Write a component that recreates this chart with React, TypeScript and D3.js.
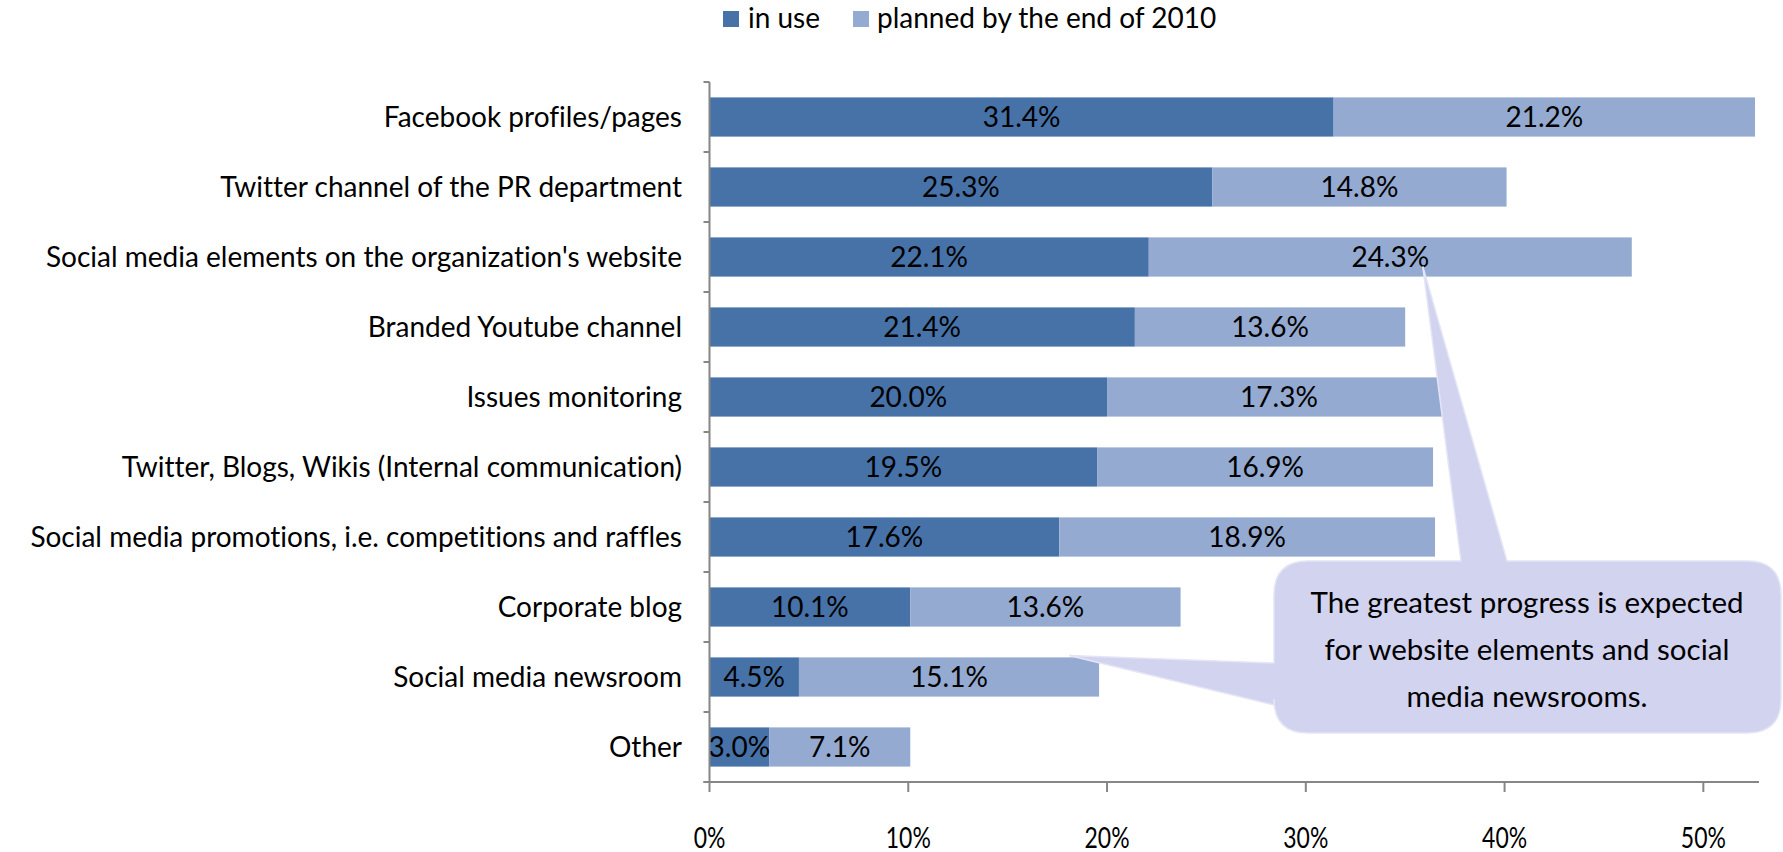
import React from "react";
import * as d3 from "d3";

const categories = [
  "Facebook profiles/pages",
  "Twitter channel of the PR department",
  "Social media elements on the organization's website",
  "Branded Youtube channel",
  "Issues monitoring",
  "Twitter, Blogs, Wikis (Internal communication)",
  "Social media promotions, i.e. competitions and raffles",
  "Corporate blog",
  "Social media newsroom",
  "Other",
];
const inUse = [31.4, 25.3, 22.1, 21.4, 20.0, 19.5, 17.6, 10.1, 4.5, 3.0];
const planned = [21.2, 14.8, 24.3, 13.6, 17.3, 16.9, 18.9, 13.6, 15.1, 7.1];
const seriesNames = ["in use", "planned by the end of 2010"];
const xTicks = [0, 10, 20, 30, 40, 50];
const calloutLines = [
  "The greatest progress is expected",
  "for website elements and social",
  "media newsrooms.",
];

const W = 1783;
const H = 852;
const FONT = "Lato, 'Open Sans', sans-serif";
const C1 = "#4672a8";
const C2 = "#95aad1";
const AXIS = "#868686";

export default function App() {
  const x = d3.scaleLinear().domain([0, 52.8]).range([709.5, 1759]);
  const y = d3.scaleBand<string>().domain(categories).range([82, 782]).paddingInner(0.44).paddingOuter(0.22);
  const band = d3.scaleBand<string>().domain(categories).range([82, 782]);
  const fmt = (v: number) => v.toFixed(1) + "%";

  // callout geometry
  const bx = 1274, by = 561, bw = 507, bh = 172, r = 34;
  const tip1x = x(inUse[2] + planned[2]) - 209, tip1y = (y(categories[2]) as number) + y.bandwidth() * 0.74;
  const tip2x = x(inUse[8] + planned[8]) - 30, tip2y = (y(categories[8]) as number) - 2;

  return (
    <svg width={W} height={H} style={{ display: "block", position: "absolute", left: 0, top: 0, fontVariantLigatures: "none" }} fontFamily={FONT}>
      {/* legend */}
      <g fontSize={28} fill="#000">
        <rect x={723} y={11} width={16} height={16} fill={C1} />
        <text x={748} y={28}>{seriesNames[0]}</text>
        <rect x={853} y={11} width={16} height={16} fill={C2} />
        <text x={877} y={28}>{seriesNames[1]}</text>
      </g>

      {/* bars */}
      {categories.map((c, i) => {
        const y0 = y(c) as number;
        const h = y.bandwidth();
        const x0 = x(0), x1 = x(inUse[i]), x2 = x(inUse[i] + planned[i]);
        return (
          <g key={c}>
            <rect x={x0} y={y0} width={x1 - x0} height={h} fill={C1} />
            <rect x={x1} y={y0} width={x2 - x1} height={h} fill={C2} />
            <text x={(x0 + x1) / 2} y={y0 + h / 2 + 10} textAnchor="middle" fontSize={28} fill="#000">{fmt(inUse[i])}</text>
            <text x={(x1 + x2) / 2} y={y0 + h / 2 + 10} textAnchor="middle" fontSize={28} fill="#000">{fmt(planned[i])}</text>
            <text x={682} y={y0 + h / 2 + 10} textAnchor="end" fontSize={28} fill="#000">{c}</text>
          </g>
        );
      })}

      {/* y axis */}
      <line x1={x(0)} x2={x(0)} y1={82} y2={782} stroke={AXIS} strokeWidth={2} />
      {d3.range(categories.length + 1).map((k) => {
        const yy = k < categories.length ? (band(categories[k]) as number) : 782;
        return <line key={k} x1={x(0) - 6} x2={x(0)} y1={yy} y2={yy} stroke={AXIS} strokeWidth={2} />;
      })}
      {/* x axis */}
      <line x1={x(0) - 6} x2={1759} y1={782} y2={782} stroke={AXIS} strokeWidth={2} />
      {xTicks.map((t) => (
        <g key={t}>
          <line x1={x(t)} x2={x(t)} y1={782} y2={792} stroke={AXIS} strokeWidth={2} />
          <g transform={`translate(${x(t)},848) scale(0.82,1)`}>
            <text x={0} y={0} textAnchor="middle" fontSize={28} fill="#000">{t + "%"}</text>
          </g>
        </g>
      ))}

      {/* callout */}
      <g>
        <path
          d={`M${bx + r},${by} L${1461},${by} L${tip1x},${tip1y} L${1507},${by} L${bx + bw - r},${by} Q${bx + bw},${by} ${bx + bw},${by + r} L${bx + bw},${by + bh - r} Q${bx + bw},${by + bh} ${bx + bw - r},${by + bh} L${bx + r},${by + bh} Q${bx},${by + bh} ${bx},${by + bh - r} L${bx},${705} L${tip2x},${tip2y} L${bx},${663} L${bx},${by + r} Q${bx},${by} ${bx + r},${by} Z`}
          fill="#d2d3ef"
          stroke="#e4e5f6"
          strokeWidth={1.5}
        />
        {calloutLines.map((l, i) => (
          <text key={i} x={1527} y={613 + i * 47} textAnchor="middle" fontSize={29.5} fill="#000">{l}</text>
        ))}
      </g>
    </svg>
  );
}
